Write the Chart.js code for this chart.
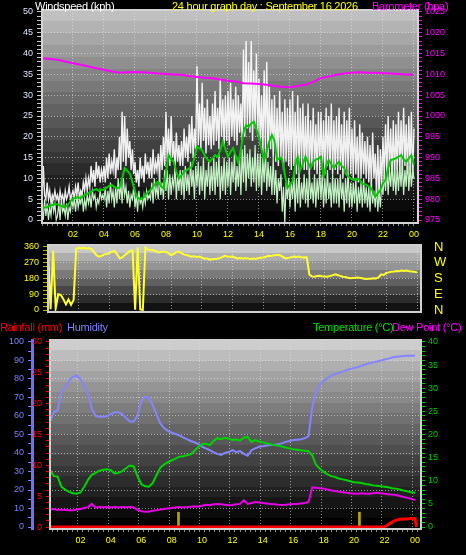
<!DOCTYPE html>
<html>
<head>
<meta charset="utf-8">
<script src="https://cdn.jsdelivr.net/npm/chart.js@4.4.1/dist/chart.umd.min.js"></script>
<style>
  html, body { margin: 0; padding: 0; background: #000; }
  body { width: 466px; height: 555px; position: relative; overflow: hidden;
         font-family: "Liberation Sans", Arial, sans-serif; font-size: 11px; }
  canvas { position: absolute; left: 0; }
  .t { position: absolute; white-space: nowrap; line-height: 12px; letter-spacing: -0.25px; }
</style>
</head>
<body>
<canvas id="wind" width="466" height="245" style="top:0"></canvas>
<canvas id="dir" width="466" height="89" style="top:234px"></canvas>
<canvas id="env" width="466" height="239" style="top:316px"></canvas>

<div class="t" style="left:35px;top:0;color:#fff">Windspeed (kph)</div>
<div class="t" style="left:172px;top:0;color:#ffff00">24 hour graph day : September 16 2026</div>
<div class="t" style="left:372px;top:0;color:#ff00ff">Barometer (hpa)</div>
<div class="t" style="left:0;top:321px;color:#ff0000">Rainfall (mm)</div>
<div class="t" style="left:67px;top:321px;color:#8080ff">Humidity</div>
<div class="t" style="left:313px;top:321px;color:#00e000">Temperature (°C)</div>
<div class="t" style="left:392px;top:321px;color:#ff00ff">Dew Point (°C)</div>

<script>
// ---- data ----
// wind gust, kph, every 5 min
const GUST = [
  5,13,6,5,9,5,7,4,6,5,7,5,
  6,4,7,5,6,4,7,5,6,8,5,6,
  7,5,8,6,9,5,7,6,9,7,10,7,
  10,8,13,9,12,8,14,10,13,9,12,10,
  13,9,15,10,16,11,14,12,17,10,15,12,
  20,12,26,14,25,13,22,15,19,12,17,11,
  14,9,12,8,15,10,13,9,16,11,14,10,
  15,10,17,11,14,12,16,10,18,12,20,13,
  26,14,22,13,25,15,19,12,21,14,18,13,
  19,13,22,15,20,14,23,16,25,15,22,17,
  37,18,28,17,33,19,27,16,29,18,25,17,
  28,18,31,19,27,17,34,20,29,18,30,19,
  31,18,33,20,29,19,32,18,30,21,28,19,
  41,20,43,22,38,21,43,19,36,22,40,20,
  34,18,30,16,36,17,38,15,32,17,29,15,
  30,14,27,13,31,15,26,12,29,14,27,13,
  29,12,31,13,26,11,30,12,27,13,28,12,
  25,12,28,11,24,13,27,12,23,11,26,12,
  26,12,24,11,27,13,25,12,28,11,24,12,
  25,11,27,12,23,10,26,11,24,12,27,11,
  22,10,24,11,20,9,23,10,21,11,19,10,
  20,9,18,8,21,10,16,6,18,5,17,8,
  20,10,23,11,25,12,22,11,24,10,23,12,
  26,11,24,12,27,13,23,11,25,12,26,10,
  22
];
// wind speed, kph, every 5 min
const WIND = [
  3,0,5,1,4,0,3,1,5,2,4,0,
  1,4,0,5,2,3,1,4,0,3,2,5,
  3,5,2,6,3,5,4,6,2,5,3,6,
  4,6,3,7,5,6,3,5,4,7,5,6,
  5,8,3,7,4,9,5,7,3,8,4,10,
  5,9,4,10,6,8,4,7,3,6,5,8,
  3,6,2,7,4,5,3,6,4,7,5,6,
  5,9,4,10,6,8,5,11,6,9,5,12,
  7,12,5,11,6,10,8,13,5,11,7,12,
  6,12,5,13,7,11,6,14,8,12,5,13,
  8,14,6,13,7,15,5,12,8,14,6,13,
  7,15,6,14,8,16,5,13,7,15,6,14,
  8,15,6,14,9,16,7,13,8,15,6,17,
  9,18,7,16,10,17,8,15,9,18,7,16,
  8,16,6,15,9,17,7,14,8,13,6,15,
  6,12,4,10,7,11,2,8,-1,9,5,10,
  3,9,5,11,2,10,4,12,3,9,5,11,
  4,10,3,12,5,9,4,11,3,10,5,12,
  5,11,3,10,4,12,5,9,3,11,4,10,
  4,10,3,11,5,9,2,10,4,12,3,9,
  3,9,4,10,2,8,4,9,3,10,4,8,
  3,8,2,9,4,7,3,8,2,7,3,9,
  6,11,7,13,6,12,8,14,7,12,6,13,
  7,13,8,14,6,12,8,15,7,13,8,12,
  10
];
// average wind, kph, every 10 min
const WIND_AVG = [
  3.2,3.0,3.0,3.5,3.6,3.8,
  3.8,3.5,3.2,3.2,3.6,4.5,
  5.2,5.3,5.5,5.2,5.8,6.2,
  6.4,6.8,7.2,7.4,7.0,7.3,
  7.2,7.8,8.2,8.4,8.0,7.6,
  7.8,10.0,12.5,11.8,11.2,9.0,
  6.8,5.4,5.0,5.2,6.0,6.6,
  7.2,8.0,8.8,9.2,8.2,7.6,
  11.0,15.6,14.6,14.0,11.5,10.0,
  10.8,11.5,12.0,12.4,12.8,15.0,
  17.6,17.2,16.8,15.5,14.6,14.0,
  14.8,15.6,15.2,16.8,18.8,17.0,
  15.2,16.4,17.3,15.4,13.7,17.0,
  21.0,22.8,22.4,23.2,23.6,21.8,
  20.0,17.0,14.4,16.5,18.9,20.4,
  19.0,14.4,15.0,14.4,11.0,7.7,
  8.5,9.2,13.0,15.2,12.0,13.5,
  15.2,13.8,12.5,14.0,14.5,14.8,
  15.2,10.4,13.0,14.4,13.4,12.5,
  13.4,14.0,13.0,12.5,10.8,10.2,
  9.8,9.6,10.0,9.6,8.8,8.6,
  8.2,8.0,7.0,5.6,6.4,7.2,
  8.8,9.6,12.5,14.4,14.6,14.8,
  15.2,15.6,14.6,14.0,14.8,15.6,
  13.2
];
// barometer, hPa, every 30 min
const BARO = [
  1013.9,1013.7,1013.5,1013.1,1012.7,1012.3,1011.9,1011.5,1011.1,
  1010.7,1010.4,1010.5,1010.6,1010.5,1010.4,1010.2,1010.1,
  1010.0,1009.9,1009.6,1009.4,1009.2,1009.1,1008.8,1008.5,
  1008.3,1007.9,1007.8,1007.7,1007.5,1007.2,1007.0,1006.9,
  1007.2,1007.5,1008.2,1009.1,1009.5,1009.9,1010.2,1010.4,
  1010.5,1010.4,1010.4,1010.3,1010.2,1010.1,1010.0,1009.9
];
// wind direction, degrees, every 10 min
const DIR = [
  335,5,338,10,90,86,
  62,32,60,30,58,350,
  355,352,356,350,354,348,
  330,312,305,310,318,320,
  326,333,337,318,295,300,
  314,325,337,340,2,358,
  3,0,357,345,343,342,
  338,329,332,334,332,325,
  314,320,329,335,325,318,
  314,310,305,307,303,305,
  300,293,296,288,290,292,
  293,297,302,310,306,304,
  305,300,295,297,294,296,
  295,292,294,293,296,298,
  300,304,310,308,312,314,
  314,310,300,295,298,302,
  305,303,306,300,302,300,
  202,192,190,194,195,193,
  192,190,194,198,204,200,
  195,190,188,184,181,183,
  184,186,183,180,177,179,
  178,181,180,186,204,200,
  212,215,218,220,223,222,
  225,223,226,222,220,218,
  215
];
// humidity %, temperature and dew point °C, every 15 min
const HUM = [
  57,62,63,73, 75.5,79,81,82, 80,76,72,64, 60,59.6,59.6,59.8,
  61,62,62,61, 59,57,57,60, 68,70.4,70,66, 61,56,53.5,52,
  51,50.3,49.5,48.5, 47.5,46.5,45.8,44.8, 43.5,42.5,41.6,40.5, 39.5,39,40,40.5,
  41.6,40.5,41,39.5, 38.5,41.5,42.5,43.4, 43.6,44,44.3,44.5, 44.8,45.2,46,46.5,
  47,47.2,47.4,48, 49,65,73,77, 79,80.5,81.8,82.7, 83.4,84,84.8,85.4,
  86,86.4,87.2,87.9, 88.5,89,89.5,90, 90.5,91,91.6,92, 92.2,92.4,92.5,92.6,
  92.6
];
const TEMP = [
  12.3,11.0,10.9,8.7, 8.1,7.6,7.3,7.2, 7.5,8.7,10.2,11.3, 11.7,12.2,12.4,12.5,
  12.3,11.6,11.7,12.1, 12.7,13.3,13.1,11.0, 9.3,8.8,8.7,9.5, 11.2,12.8,13.5,14.0,
  14.4,14.8,15.2,15.3, 15.5,15.7,16.5,17.3, 17.9,18.0,17.7,18.6, 19.2,19.0,19.3,19.1,
  18.8,18.9,18.7,19.3, 19.5,18.4,18.8,18.5, 18.3,18.1,17.9,17.7, 17.6,17.4,17.2,17.0,
  16.8,16.7,16.6,16.5, 16.4,15.5,13.4,12.6, 11.9,11.4,11.0,10.8, 10.5,10.3,10.1,9.9,
  9.7,9.6,9.5,9.3, 9.2,9.0,8.9,8.8, 8.7,8.6,8.4,8.3, 8.1,7.9,7.7,7.5,
  7.4
];
const DEW = [
  3.8,3.9,3.7,3.8, 3.7,3.6,3.6,3.8, 3.9,4.1,4.3,5.0, 4.2,4.3,4.25,4.3,
  4.2,4.3,4.2,4.3, 4.25,4.3,4.2,3.7, 3.4,3.3,3.3,3.5, 3.6,3.8,3.9,4.0,
  4.1,4.2,4.3,4.2, 4.3,4.4,4.5,4.4, 4.6,4.8,4.7,4.9, 5.0,4.9,4.8,4.7,
  4.75,4.9,5.0,5.8, 5.0,5.2,5.4,5.3, 5.2,5.1,5.0,4.9, 4.8,4.75,4.8,4.9,
  5.0,5.0,5.1,5.2, 5.4,8.6,8.5,8.4, 8.3,8.1,7.9,7.8, 7.6,7.5,7.4,7.3,
  7.2,7.2,7.3,7.2, 7.2,7.3,7.4,7.3, 7.2,7.1,7.0,6.9, 6.7,6.5,6.3,6.1,
  5.8
];
// rainfall, mm
const RAIN_HOURS = [0, 22, 22.25, 22.5, 22.75, 23, 23.25, 23.5, 23.75, 24, 24.1];
const RAIN = [0, 0, 0.4, 0.8, 1.1, 1.25, 1.3, 1.3, 1.4, 1.4, 0];
// yellow event marks in the lower panel
const MARK_HOURS = [8.45, 20.35];
const MARK = [2.4, 2.4];

const COMPASS_TICKS = [0, 90, 180, 270, 360];
const COMPASS_LABELS = ['N', 'E', 'S', 'W', 'N'];

// ---- helpers ----
Chart.defaults.font.family = '"Liberation Sans", Arial, sans-serif';
Chart.defaults.font.size = 9;
Chart.defaults.animation = false;

const GRID = 'rgba(230,230,230,0.6)';

function range(a, b, s) {
  const out = [];
  for (let i = 0; a + i * s <= b + 1e-9; i++) out.push(+(a + i * s).toFixed(4));
  return out;
}
function pts(vals, step) { return vals.map((v, i) => ({ x: i * step, y: v })); }
function pairs(xs, ys) { return xs.map((x, i) => ({ x, y: ys[i] })); }
const fixTicks = list => s => { s.ticks = list.map(v => ({ value: v })); };
const isEven = v => Math.abs(v / 2 - Math.round(v / 2)) < 1e-3;

const X_TICKS = range(0, 24, 1 / 3);

function timeAxis(max, height, labels) {
  return {
    type: 'linear', min: 0, max,
    afterBuildTicks: fixTicks(X_TICKS),
    afterFit: s => { s.height = height; },
    ticks: {
      display: labels, autoSkip: false, maxRotation: 0, color: '#ffff00', padding: 3,
      callback: v => (isEven(v) && v > 0) ? String(Math.round(v) % 24).padStart(2, '0') : ''
    },
    grid: {
      drawTicks: labels, tickLength: 3, tickColor: '#8c8c8c',
      color: c => (c.tick && isEven(c.tick.value) && c.tick.value > 0) ? GRID : 'transparent'
    },
    border: { display: false, dash: [1, 2] }
  };
}

function valueAxis(o) {
  return {
    type: 'linear', position: o.pos, min: o.min, max: o.max, weight: o.weight || 0,
    afterBuildTicks: fixTicks(o.ticks),
    afterFit: s => { s.width = o.width; },
    ticks: { autoSkip: false, color: o.color, padding: o.pad, font: { size: o.size || 9 }, callback: o.label },
    grid: {
      drawOnChartArea: !!o.grid, drawTicks: o.tl > 0, tickLength: o.tl || 0, tickColor: o.tickColor || o.color,
      color: c => (o.grid && c.tick && o.grid(c.tick.value)) ? GRID : 'transparent'
    },
    border: { display: !!o.border, color: o.border || 'transparent', width: o.borderWidth || 1, dash: [1, 2] }
  };
}

// stepped grey background inside the plot area plus a light frame
const panelBg = {
  id: 'panelBg',
  beforeDraw(chart, args, opts) {
    const { ctx, chartArea: a } = chart;
    const n = opts.bands;
    const h = (a.bottom - a.top) / n;
    for (let i = 0; i < n; i++) {
      const t = i / (n - 1);
      const g = Math.round(opts.from + (opts.to - opts.from) * Math.pow(t, opts.gamma || 1));
      ctx.fillStyle = `rgb(${g},${g},${g})`;
      ctx.fillRect(a.left, Math.floor(a.top + i * h), a.right - a.left, Math.ceil(h) + 1);
    }
  },
  afterDraw(chart, args, opts) {
    const { ctx, chartArea: a } = chart;
    ctx.save();
    ctx.strokeStyle = opts.frame || '#d0d0d0';
    ctx.lineWidth = 2;
    ctx.strokeRect(a.left, a.top, a.right - a.left, a.bottom - a.top);
    ctx.restore();
  }
};

const common = {
  responsive: false, animation: false, devicePixelRatio: 1,
  events: [],
  elements: { point: { radius: 0 }, line: { tension: 0 } },
};

// ---- top: wind speed + barometer ----
new Chart(document.getElementById('wind'), {
  type: 'line',
  plugins: [panelBg],
  data: {
    datasets: [
      { data: pts(GUST, 1 / 12), borderColor: 'rgba(255,255,255,0.92)', borderWidth: 1.4, order: 4 },
      { data: pts(WIND, 1 / 12), borderColor: '#c4f2c4', borderWidth: 1.2, order: 3 },
      { data: pts(WIND_AVG, 1 / 6), borderColor: '#00cc00', borderWidth: 2, order: 2 },
      { data: pts(BARO, 0.5), yAxisID: 'baro', borderColor: '#ff00ff', borderWidth: 2, order: 1 }
    ]
  },
  options: {
    ...common,
    layout: { padding: { top: 10, left: 0, right: 0, bottom: 0 } },
    plugins: { legend: { display: false }, tooltip: { enabled: false },
               panelBg: { from: 192, to: 0, bands: 18, gamma: 0.95, frame: '#d4d4d4' } },
    scales: {
      x: timeAxis(24.26, 22, true),
      y: valueAxis({ pos: 'left', min: -0.72, max: 50.48, ticks: range(0, 50, 1), width: 42,
        color: '#dce6ff', tickColor: '#c8c8c8', pad: 4, tl: 5,
        label: v => v % 5 === 0 ? String(v) : '', grid: v => v % 5 === 0 && v > 0 && v < 50 }),
      baro: valueAxis({ pos: 'right', min: 974.28, max: 1025.48, ticks: range(975, 1025, 1), width: 48,
        color: '#ff00ff', pad: 3, tl: 4, label: v => v % 5 === 0 ? String(v) : '' })
    }
  }
});

// ---- middle: wind direction ----
new Chart(document.getElementById('dir'), {
  type: 'line',
  plugins: [panelBg],
  data: {
    datasets: [
      { data: pts(DIR, 1 / 6), borderColor: '#ffff30', borderWidth: 2 }
    ]
  },
  options: {
    ...common,
    layout: { padding: { top: 11, left: 0, right: 0, bottom: 0 } },
    plugins: { legend: { display: false }, tooltip: { enabled: false },
               panelBg: { from: 200, to: 18, bands: 8, frame: '#d0d0d0' } },
    scales: {
      x: timeAxis(24.26, 11, false),
      y: valueAxis({ pos: 'left', min: -11.4, max: 371.4, ticks: range(0, 360, 22.5), width: 48,
        color: '#ffff00', tickColor: '#b4b400', pad: 4, tl: 5,
        label: v => v % 90 === 0 ? String(v) : '', grid: v => v % 90 === 0 && v > 0 && v < 360 }),
      compass: valueAxis({ pos: 'right', min: -11.4, max: 371.4, ticks: COMPASS_TICKS, width: 45,
        color: '#ffff00', tickColor: 'transparent', pad: 1, tl: 12, size: 13,
        label: v => COMPASS_LABELS[COMPASS_TICKS.indexOf(v)] })
    }
  }
});

// ---- bottom: rain, humidity, temperature, dew point ----
new Chart(document.getElementById('env'), {
  type: 'line',
  plugins: [panelBg],
  data: {
    datasets: [
      { data: pts(HUM, 0.25), yAxisID: 'hum', borderColor: '#8484ff', borderWidth: 2, order: 5 },
      { data: pts(TEMP, 0.25), yAxisID: 'temp', borderColor: '#00d400', borderWidth: 2, order: 4 },
      { data: pts(DEW, 0.25), yAxisID: 'temp', borderColor: '#e600e6', borderWidth: 2, order: 3 },
      { type: 'bar', data: pairs(MARK_HOURS, MARK), yAxisID: 'rain', backgroundColor: '#b4a800',
        barThickness: 2, order: 2 },
      { data: pairs(RAIN_HOURS, RAIN), yAxisID: 'rain', borderColor: '#ff0000', borderWidth: 3, order: 1 }
    ]
  },
  options: {
    ...common,
    layout: { padding: { top: 24, left: 0, right: 0, bottom: 0 } },
    plugins: { legend: { display: false }, tooltip: { enabled: false },
               panelBg: { from: 205, to: 0, bands: 18, gamma: 0.9, frame: '#d0d0d0' } },
    scales: {
      x: Object.assign(timeAxis(24.4, 26, true), { offset: false }),
      hum: valueAxis({ pos: 'left', weight: 1, min: -1.08, max: 101.08, ticks: range(0, 100, 5), width: 32,
        color: '#8080ff', pad: 4, tl: 4, border: '#7070ff', borderWidth: 3,
        label: v => v % 10 === 0 ? String(v) : '', grid: v => v % 10 === 0 && v > 0 && v < 100 }),
      rain: valueAxis({ pos: 'left', weight: 0, min: -0.32, max: 30.32, ticks: range(0, 30, 1), width: 18,
        color: '#ff0000', pad: 4, tl: 4, label: v => v % 5 === 0 ? String(v) : '' }),
      temp: valueAxis({ pos: 'right', min: -0.43, max: 40.43, ticks: range(0, 40, 1), width: 45,
        color: '#00cc00', pad: 3, tl: 4, label: v => v % 5 === 0 ? String(v) : '' })
    }
  }
});
</script>
</body>
</html>
